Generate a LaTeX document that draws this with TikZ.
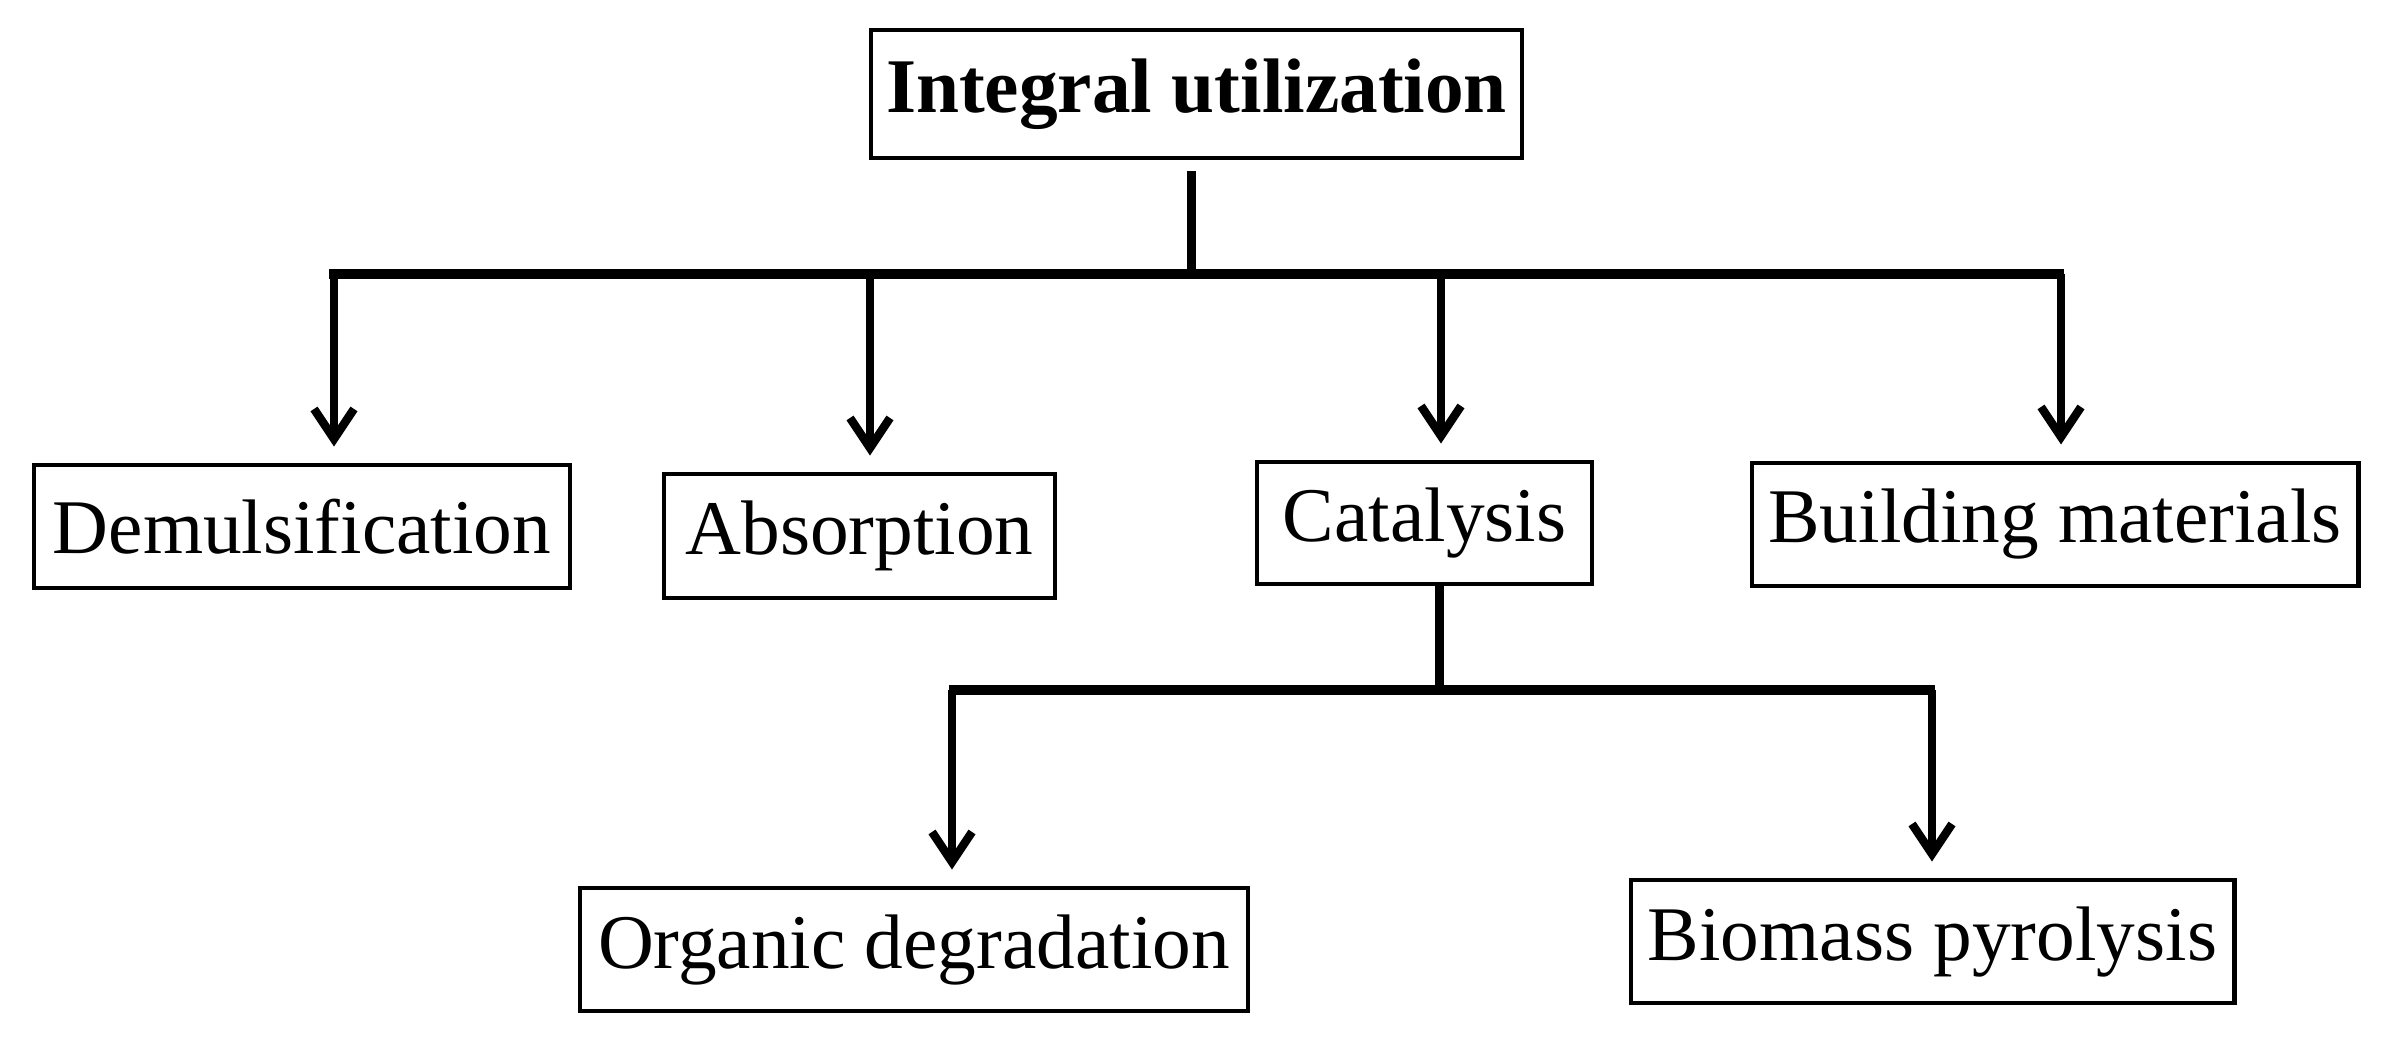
\documentclass[tikz,border=0pt]{standalone}
\usepackage{fontspec}
\setmainfont{Liberation Serif}
\usetikzlibrary{arrows.meta}

\begin{document}
\begin{tikzpicture}[
  >={Straight Barb[length=0.3cm,width=0.4cm,line width=2.4pt]},
  every node/.style={font=\fontsize{22}{26}\selectfont},
  box/.style={draw, line width=1.4pt, inner sep=0pt, minimum height=1.23cm},
  arrow/.style={->, line width=2.1pt, shorten >=0.16cm},
  bus/.style={line width=2.6pt},
  stem/.style={line width=2.3pt}
]
\useasboundingbox (0,0) rectangle (23.94,-10.53);

% Top box
\node[box, minimum width=6.51cm, minimum height=1.28cm,
  font=\fontsize{22}{26}\selectfont\bfseries] (integral) at (11.965,-0.94) {Integral utilization};

% Second row
\node[box, minimum width=5.36cm] (demul) at (3.02,-5.265) {Demulsification};
\node[box, minimum width=3.91cm, minimum height=1.24cm] (absorp) at (8.595,-5.36) {Absorption};
\node[box, minimum width=3.35cm, minimum height=1.22cm] (catal) at (14.245,-5.23) {Catalysis};
\node[box, minimum width=6.06cm] (build) at (20.55,-5.245) {Building materials};

% Third row (under catalysis)
\node[box, minimum width=6.68cm] (organic) at (9.14,-9.495) {Organic degradation};
\node[box, minimum width=6.03cm] (biomass) at (19.325,-9.415) {Biomass pyrolysis};

% Branch points on the first bus
\coordinate (b1) at (3.34,-2.74);
\coordinate (b2) at (8.70,-2.74);
\coordinate (b3) at (14.41,-2.74);
\coordinate (b4) at (20.61,-2.74);

\draw[stem] ([xshift=-0.05cm,yshift=-0.11cm]integral.south) -- ([xshift=-0.05cm]integral.south |- b1);
\draw[bus] ([xshift=-0.05cm]b1) -- ([xshift=0.03cm]b4);
\draw[arrow] (b1) -- (b1 |- demul.north);
\draw[arrow] (b2) -- (b2 |- absorp.north);
\draw[arrow] (b3) -- (b3 |- catal.north);
\draw[arrow] (b4) -- (b4 |- build.north);

% Branch points on the second bus
\coordinate (c1) at (9.52,-6.90);
\coordinate (c2) at (19.32,-6.90);

\draw[stem] ([xshift=0.15cm]catal.south) -- ([xshift=0.15cm]catal.south |- c1);
\draw[bus] ([xshift=-0.03cm]c1) -- ([xshift=0.03cm]c2);
\draw[arrow] (c1) -- (c1 |- organic.north);
\draw[arrow] (c2) -- (c2 |- biomass.north);

\end{tikzpicture}
\end{document}
